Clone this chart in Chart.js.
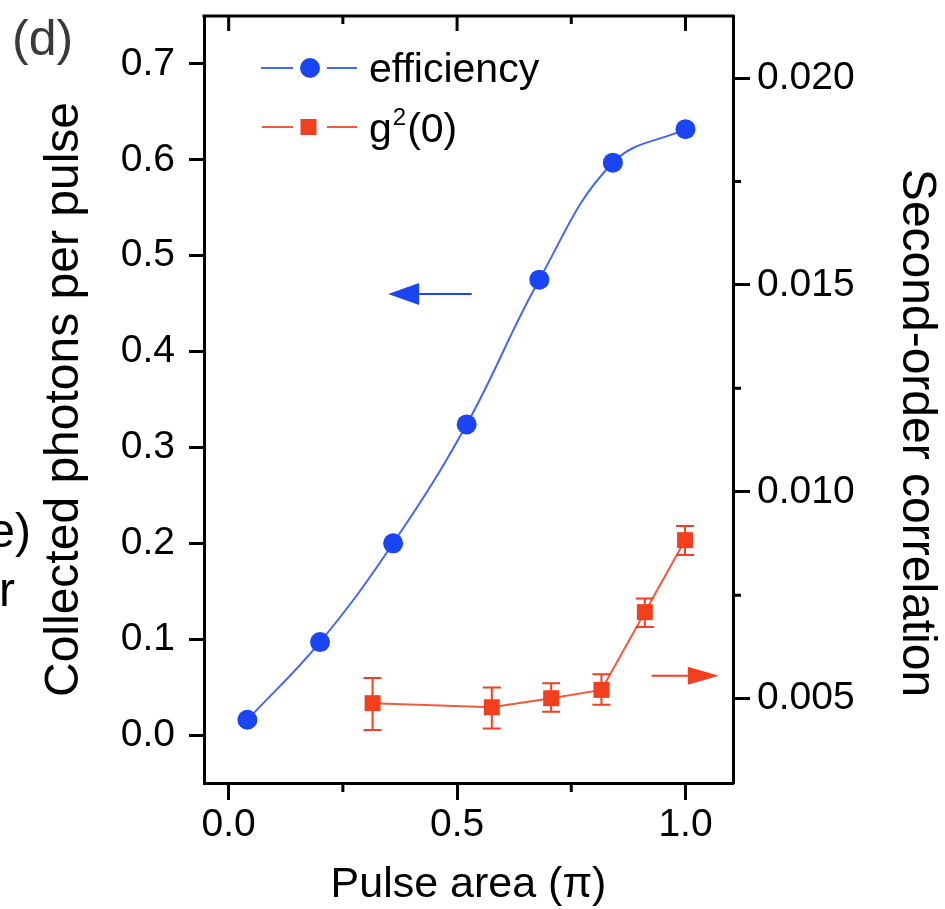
<!DOCTYPE html>
<html>
<head>
<meta charset="utf-8">
<script src="https://cdn.jsdelivr.net/npm/chart.js@4.4.0/dist/chart.umd.min.js"></script>
<style>
  html, body { margin: 0; padding: 0; background: #fff; }
  canvas { display: block; }
</style>
</head>
<body>
<canvas id="pulse_chart" width="945" height="909"></canvas>
<script>
// efficiency, left axis
const effPulse = [0.041, 0.200, 0.360, 0.521, 0.680, 0.841, 1.000];
const effPhotons = [0.016, 0.097, 0.200, 0.324, 0.475, 0.597, 0.632];

// g2(0), right axis, with error bar ends
const g2Pulse = [0.315, 0.576, 0.706, 0.816, 0.911, 0.999];
const g2Value = [0.00489, 0.00479, 0.00501, 0.00521, 0.00709, 0.00883];
const g2Upper = [0.00550, 0.00527, 0.00537, 0.00559, 0.00742, 0.00917];
const g2Lower = [0.00424, 0.00428, 0.00468, 0.00485, 0.00673, 0.00847];

// ticks
const xMajorTicks = [0, 0.5, 1.0];
const xMinorTicks = [0.25, 0.75];
const yLeftTicks = [0, 0.1, 0.2, 0.3, 0.4, 0.5, 0.6, 0.7];
const yRightTicks = [0.005, 0.010, 0.015, 0.020];
const yRightMinorTicks = [0.0075, 0.0125, 0.0175];

// arrows pointing to each series' axis
const effArrowX = [0.532, 0.349];
const effArrowY = 0.46;
const g2ArrowX = [0.926, 1.073];
const g2ArrowY = 0.00555;

const BLUE = "#1b45f2";
const BLUE_LINE = "#4467f0";
const RED = "#f2401f";
const RED_LINE = "#f25a3c";
const FONT = '"Liberation Sans", Arial, Helvetica, sans-serif';

Chart.defaults.font.family = FONT;
Chart.defaults.color = "#000";

function drawArrow(ctx, x0, x1, y, color, headLen, headHalf) {
  const dir = Math.sign(x1 - x0);
  ctx.strokeStyle = color;
  ctx.fillStyle = color;
  ctx.lineWidth = 2;
  ctx.beginPath();
  ctx.moveTo(x0, y);
  ctx.lineTo(x1 - dir * headLen, y);
  ctx.stroke();
  ctx.beginPath();
  ctx.moveTo(x1, y);
  ctx.lineTo(x1 - dir * headLen, y - headHalf);
  ctx.lineTo(x1 - dir * headLen, y + headHalf);
  ctx.closePath();
  ctx.fill();
}

// no label overflow padding, the frame has a fixed place
function fixBox(size, key) {
  return (scale) => {
    scale[key] = size;
    scale.paddingTop = 0;
    scale.paddingBottom = 0;
    scale.paddingLeft = 0;
    scale.paddingRight = 0;
  };
}

const errorBarPlugin = {
  id: "g2ErrorBars",
  afterDatasetsDraw(chart) {
    const { ctx, scales } = chart;
    ctx.save();
    ctx.strokeStyle = RED;
    ctx.lineWidth = 2;
    g2Pulse.forEach((p, i) => {
      const x = scales.x.getPixelForValue(p);
      const top = scales.yR.getPixelForValue(g2Upper[i]);
      const bot = scales.yR.getPixelForValue(g2Lower[i]);
      ctx.beginPath();
      ctx.moveTo(x, top);
      ctx.lineTo(x, bot);
      ctx.moveTo(x - 9, top);
      ctx.lineTo(x + 9, top);
      ctx.moveTo(x - 9, bot);
      ctx.lineTo(x + 9, bot);
      ctx.stroke();
    });
    ctx.restore();
  },
};

const framePlugin = {
  id: "frame",
  afterDraw(chart) {
    const { ctx, chartArea: a, scales } = chart;
    ctx.save();
    ctx.strokeStyle = "#000";
    ctx.lineWidth = 3;

    // top frame line with inward ticks
    ctx.beginPath();
    ctx.moveTo(a.left - 1.5, a.top);
    ctx.lineTo(a.right + 1.5, a.top);
    xMajorTicks.forEach((v) => {
      const x = scales.x.getPixelForValue(v);
      ctx.moveTo(x, a.top);
      ctx.lineTo(x, a.top + 15);
    });
    xMinorTicks.forEach((v) => {
      const x = scales.x.getPixelForValue(v);
      ctx.moveTo(x, a.top);
      ctx.lineTo(x, a.top + 8);
      // bottom minor ticks
      ctx.moveTo(x, a.bottom);
      ctx.lineTo(x, a.bottom + 9);
    });
    yRightMinorTicks.forEach((v) => {
      const y = scales.yR.getPixelForValue(v);
      ctx.moveTo(a.right, y);
      ctx.lineTo(a.right + 8, y);
    });
    ctx.stroke();

    // arrows
    drawArrow(ctx,
      scales.x.getPixelForValue(effArrowX[0]), scales.x.getPixelForValue(effArrowX[1]),
      scales.yL.getPixelForValue(effArrowY), BLUE, 31, 11);
    drawArrow(ctx,
      scales.x.getPixelForValue(g2ArrowX[0]), scales.x.getPixelForValue(g2ArrowX[1]),
      scales.yR.getPixelForValue(g2ArrowY), RED, 31, 9);

    // legend
    ctx.lineWidth = 2;
    ctx.strokeStyle = BLUE_LINE;
    ctx.beginPath();
    ctx.moveTo(261, 68); ctx.lineTo(293, 68);
    ctx.moveTo(327, 68); ctx.lineTo(357, 68);
    ctx.stroke();
    ctx.fillStyle = BLUE;
    ctx.beginPath();
    ctx.arc(310, 68, 10, 0, Math.PI * 2);
    ctx.fill();

    ctx.strokeStyle = RED_LINE;
    ctx.beginPath();
    ctx.moveTo(262, 127); ctx.lineTo(293, 127);
    ctx.moveTo(327, 127); ctx.lineTo(357, 127);
    ctx.stroke();
    ctx.fillStyle = RED;
    ctx.fillRect(300.5, 119, 16, 16);

    ctx.fillStyle = "#000";
    ctx.textAlign = "left";
    ctx.textBaseline = "alphabetic";
    ctx.font = "41px " + FONT;
    ctx.fillText("efficiency", 369, 82);
    ctx.fillText("g", 369, 142);
    const gW = ctx.measureText("g").width;
    ctx.font = "24px " + FONT;
    ctx.fillText("2", 369 + gW + 1, 125);
    const sW = ctx.measureText("2").width;
    ctx.font = "41px " + FONT;
    ctx.fillText("(0)", 369 + gW + sW + 2, 142);

    // right axis title
    ctx.save();
    ctx.translate(903, 433);
    ctx.rotate(Math.PI / 2);
    ctx.font = "48px " + FONT;
    ctx.textAlign = "center";
    ctx.fillText("Second-order correlation", 0, 0);
    ctx.restore();

    // panel label and neighbouring panel fragments
    ctx.font = "50px " + FONT;
    ctx.fillStyle = "#3a3a3a";
    ctx.fillText("(d)", 12, 55);
    ctx.fillStyle = "#000";
    ctx.font = "48px " + FONT;
    ctx.textAlign = "right";
    ctx.fillText("e)", 31, 547);
    ctx.fillText("r", 15, 606);
    ctx.restore();
  },
};

new Chart("pulse_chart", {
  type: "line",
  data: {
    datasets: [
      {
        label: "efficiency",
        data: effPulse.map((x, i) => ({ x: x, y: effPhotons[i] })),
        yAxisID: "yL",
        borderColor: BLUE_LINE,
        borderWidth: 2,
        backgroundColor: BLUE,
        pointBackgroundColor: BLUE,
        pointBorderWidth: 0,
        pointRadius: 10,
        pointStyle: "circle",
        tension: 0.4,
        fill: false,
      },
      {
        label: "g2(0)",
        data: g2Pulse.map((x, i) => ({ x: x, y: g2Value[i] })),
        yAxisID: "yR",
        borderColor: RED_LINE,
        borderWidth: 2,
        backgroundColor: RED,
        pointBackgroundColor: RED,
        pointBorderWidth: 0,
        pointRadius: 11.3,
        pointStyle: "rect",
        tension: 0,
        fill: false,
      },
    ],
  },
  options: {
    responsive: false,
    animation: false,
    devicePixelRatio: 1,
    layout: { padding: { top: 16, left: 0, right: 0, bottom: 0 } },
    plugins: {
      legend: { display: false },
      tooltip: { enabled: false },
    },
    scales: {
      x: {
        type: "linear",
        position: "bottom",
        min: -0.054,
        max: 1.104,
        afterBuildTicks: (scale) => {
          scale.ticks = xMajorTicks.map((v) => ({ value: v }));
        },
        afterFit: fixBox(126, "height"),
        ticks: {
          font: { size: 39, lineHeight: 1 },
          color: "#000",
          padding: 6,
          maxRotation: 0,
          callback: (v) => v.toFixed(1),
        },
        grid: { drawOnChartArea: false, tickLength: 17, tickWidth: 3, tickColor: "#000" },
        border: { color: "#000", width: 3 },
        title: {
          display: true,
          text: "Pulse area (π)",
          color: "#000",
          font: { size: 43, lineHeight: 1 },
          padding: { top: 0, bottom: 2.5 },
        },
      },
      yL: {
        type: "linear",
        position: "left",
        min: -0.05,
        max: 0.75,
        afterBuildTicks: (scale) => {
          scale.ticks = yLeftTicks.map((v) => ({ value: v }));
        },
        afterFit: fixBox(204, "width"),
        ticks: {
          font: { size: 39, lineHeight: 1 },
          color: "#000",
          padding: 14,
          callback: (v) => v.toFixed(1),
        },
        grid: { drawOnChartArea: false, tickLength: 15, tickWidth: 3, tickColor: "#000" },
        border: { color: "#000", width: 3 },
        title: {
          display: true,
          text: "Collected photons per pulse",
          color: "#000",
          font: { size: 48, lineHeight: 1 },
          padding: { top: 41, bottom: 0 },
        },
      },
      yR: {
        type: "linear",
        position: "right",
        min: 0.00296,
        max: 0.0215,
        afterBuildTicks: (scale) => {
          scale.ticks = yRightTicks.map((v) => ({ value: v }));
        },
        afterFit: fixBox(212, "width"),
        ticks: {
          font: { size: 39, lineHeight: 1 },
          color: "#000",
          padding: 7,
          callback: (v) => v.toFixed(3),
        },
        grid: { drawOnChartArea: false, tickLength: 17, tickWidth: 3, tickColor: "#000" },
        border: { color: "#000", width: 3 },
      },
    },
  },
  plugins: [errorBarPlugin, framePlugin],
});
</script>
</body>
</html>
